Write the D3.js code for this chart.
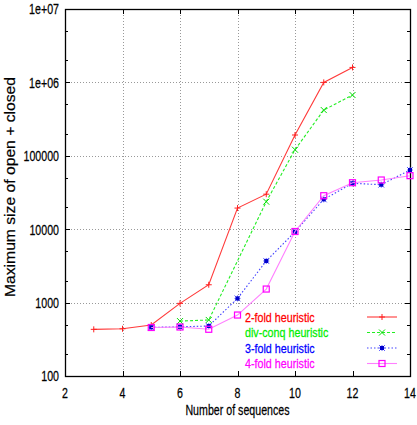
<!DOCTYPE html>
<html><head><meta charset="utf-8">
<script src="https://cdn.jsdelivr.net/npm/d3@7"></script>
<style>
html,body{margin:0;padding:0;background:#fff;}
text{font-family:"Liberation Sans",Arial,Helvetica,sans-serif;}
</style></head>
<body>
<svg id="c" width="417" height="425"></svg>
<script>
const xTicks = [2,4,6,8,10,12,14];
const yTicks = [100,1000,10000,100000,1e6,1e7];
const yTickLabels = ["100","1000","10000","100000","1e+06","1e+07"];

const twoFoldX = [3,4,5,6,7,8,9,10,11,12];
const twoFoldY = [432,440,495,976,1750,19400,30000,192000,1000000,1600000];
const divConqX = [6,7,9,10,11,12];
const divConqY = [560,580,23700,121000,420000,673000];
const threeFoldX = [5,6,7,8,9,10,11,12,13,14];
const threeFoldY = [460,468,480,1140,3690,9200,25500,42200,40400,64000];
const fourFoldX = [5,6,7,8,9,10,11,12,13,14];
const fourFoldY = [458,465,433,677,1530,9300,28600,43000,46800,53600];

const seriesNames = ["2-fold heuristic","div-conq heuristic","3-fold heuristic","4-fold heuristic"];

const svg = d3.select("#c");
const L=65, R=410, T=9, B=376;
const x = d3.scaleLinear().domain([2,14]).range([L,R]);
const y = d3.scaleLog().domain([100,1e7]).range([B,T]);

function hText(parent, px, py, anchor, txt, fill, fs, sx){
  fs = fs || 15; sx = sx || 0.71;
  const gg = parent.append("g").attr("transform",`translate(${px},${py}) scale(${sx},1)`);
  return gg.append("text").attr("x",0).attr("y",0).attr("dy","0.36em")
    .attr("text-anchor",anchor).attr("font-size",fs).attr("fill",fill||"#000")
    .attr("stroke",fill||"#000").attr("stroke-width",0.25).text(txt);
}

// grid
const g = svg.append("g");
g.selectAll(".gx").data(xTicks.filter(d=>d>2&&d<14)).enter().append("line")
  .attr("x1",d=>Math.round(x(d))+0.5).attr("x2",d=>Math.round(x(d))+0.5).attr("y1",T).attr("y2",B)
  .attr("stroke","#999").attr("stroke-width",1).attr("stroke-dasharray","1,2");
g.selectAll(".gy").data(yTicks.filter(d=>d>100&&d<1e7)).enter().append("line")
  .attr("y1",d=>Math.round(y(d))+0.5).attr("y2",d=>Math.round(y(d))+0.5).attr("x1",L).attr("x2",R)
  .attr("stroke","#999").attr("stroke-width",1).attr("stroke-dasharray","1,2");

// key background (hides grid)
svg.append("rect").attr("x",234).attr("y",309).attr("width",174).attr("height",61).attr("fill","#fff");

// ticks
const minor = [];
for (let e=2;e<7;e++){ minor.push(2*Math.pow(10,e)); minor.push(5*Math.pow(10,e)); }
const tk = svg.append("g").attr("stroke","#000").attr("stroke-width",1);
yTicks.forEach(d=>{
  const yy=Math.round(y(d))+0.5;
  tk.append("line").attr("x1",L).attr("x2",L+5).attr("y1",yy).attr("y2",yy);
  tk.append("line").attr("x1",R-5).attr("x2",R).attr("y1",yy).attr("y2",yy);
});
minor.forEach(d=>{
  const yy=Math.round(y(d))+0.5;
  tk.append("line").attr("x1",L).attr("x2",L+3).attr("y1",yy).attr("y2",yy);
  tk.append("line").attr("x1",R-3).attr("x2",R).attr("y1",yy).attr("y2",yy);
});
xTicks.forEach(d=>{
  const xx=Math.round(x(d))+0.5;
  tk.append("line").attr("x1",xx).attr("x2",xx).attr("y1",B).attr("y2",B-5);
  tk.append("line").attr("x1",xx).attr("x2",xx).attr("y1",T).attr("y2",T+5);
});

// border
svg.append("rect").attr("x",L+0.5).attr("y",T+0.5).attr("width",R-L).attr("height",B-T)
  .attr("fill","none").attr("stroke","#000").attr("stroke-width",1.3);

// tick labels
yTicks.forEach((d,i)=>hText(svg, 59, y(d), "end", yTickLabels[i]));
xTicks.forEach(d=>hText(svg, x(d), 392.5, "middle", String(d)));

// axis titles
hText(svg, 237.5, 410, "middle", "Number of sequences");
svg.append("text").attr("transform","translate(9,187) rotate(-90)").attr("dy","0.36em")
  .attr("text-anchor","middle").attr("font-size",15.5)
  .attr("stroke","#000").attr("stroke-width",0.2)
  .attr("textLength",220).attr("lengthAdjust","spacingAndGlyphs")
  .text("Maximum size of open + closed");

// series
const series = [
  {xs:twoFoldX, ys:twoFoldY, color:"#ff2020", line:"#ff3a3a", dash:null, mark:"plus", text:"#ff0000"},
  {xs:divConqX, ys:divConqY, color:"#00dd00", line:"#22ee22", dash:"3,2", mark:"cross", text:"#00ee00"},
  {xs:threeFoldX, ys:threeFoldY, color:"#0000ff", line:"#4444ff", dash:"1.5,2", mark:"star", text:"#0000ff"},
  {xs:fourFoldX, ys:fourFoldY, color:"#ff00ff", line:"#ff80ff", dash:null, mark:"square", text:"#ff00ff"}
];
const lineGen = d3.line().x(d=>x(d[0])).y(d=>y(d[1]));

function drawMark(sel, type, cx, cy, color){
  const s=3;
  if(type==="plus"){
    sel.append("path").attr("d",`M${cx-s},${cy}H${cx+s}M${cx},${cy-s}V${cy+s}`).attr("stroke",color).attr("stroke-width",1).attr("fill","none");
  } else if(type==="cross"){
    sel.append("path").attr("d",`M${cx-s},${cy-s}L${cx+s},${cy+s}M${cx-s},${cy+s}L${cx+s},${cy-s}`).attr("stroke",color).attr("stroke-width",1).attr("fill","none");
  } else if(type==="star"){
    sel.append("path").attr("d",`M${cx-s},${cy}H${cx+s}M${cx},${cy-s}V${cy+s}M${cx-s},${cy-s}L${cx+s},${cy+s}M${cx-s},${cy+s}L${cx+s},${cy-s}`).attr("stroke","#6666ff").attr("stroke-width",1).attr("fill","none");
    sel.append("rect").attr("x",cx-2).attr("y",cy-2).attr("width",4).attr("height",4).attr("fill","#0000cc");
  } else {
    sel.append("rect").attr("x",cx-3).attr("y",cy-3).attr("width",6).attr("height",6).attr("fill","none").attr("stroke",color).attr("stroke-width",1.2);
  }
}

series.forEach(s=>{
  const pts = s.xs.map((xv,i)=>[xv,s.ys[i]]);
  svg.append("path").datum(pts).attr("d",lineGen).attr("fill","none")
    .attr("stroke",s.line).attr("stroke-width",1.1).attr("stroke-dasharray",s.dash);
  const mg = svg.append("g");
  pts.forEach(p=>drawMark(mg,s.mark,x(p[0]),y(p[1]),s.color));
});

// legend
const keyY = [317,332.5,348,363.5];
series.forEach((s,i)=>{
  hText(svg, 245, keyY[i], "start", seriesNames[i], s.text, 13.4, 0.8);
  svg.append("line").attr("x1",367).attr("x2",397).attr("y1",keyY[i]).attr("y2",keyY[i])
    .attr("stroke",s.line).attr("stroke-width",1.1).attr("stroke-dasharray",s.dash);
  drawMark(svg.append("g"), s.mark, 382, keyY[i], s.color);
});
</script>
</body></html>
